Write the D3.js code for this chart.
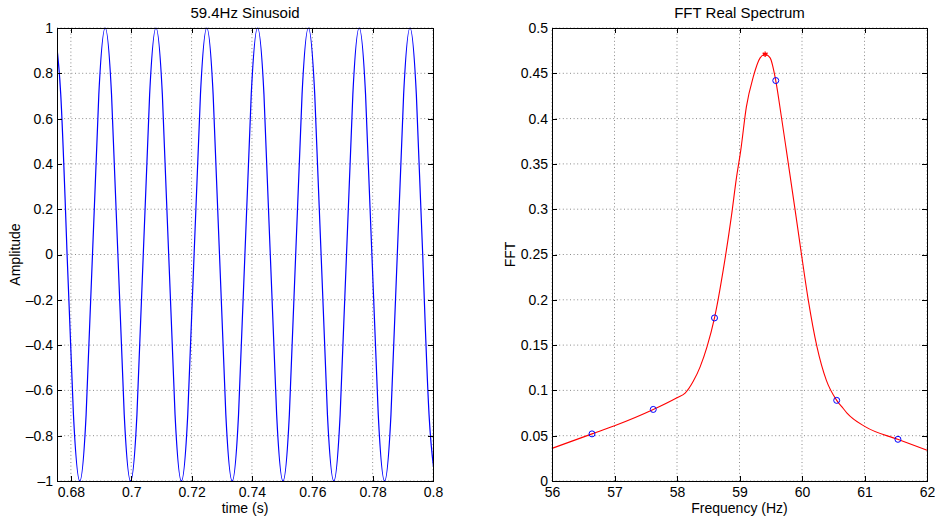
<!DOCTYPE html>
<html>
<head>
<meta charset="utf-8">
<script src="https://cdn.jsdelivr.net/npm/d3@7"></script>
<style>
  body { margin: 0; background: #fff; }
  svg { display: block; font-family: 'Liberation Sans', Arial, sans-serif; }
  .grid line { stroke: #8a8a8a; stroke-width: 1; stroke-dasharray: 1,2.6; }
  .axis path, .axis line { stroke: #000; shape-rendering: crispEdges; }
  .axis text { font-size: 14px; fill: #000; font-family: 'Liberation Sans', Arial, sans-serif; }
</style>
</head>
<body>
<svg id="chart" width="935" height="519"></svg>
<script>
// Left panel: sinusoid read at eighth-period points (peaks, troughs, crossings).
var sineTimes = [
  0.67453, 0.67664, 0.67874, 0.68085, 0.68295, 0.68505, 0.68716, 0.68926,
  0.69137, 0.69347, 0.69558, 0.69768, 0.69979, 0.70189, 0.70399, 0.70610,
  0.70820, 0.71031, 0.71241, 0.71452, 0.71662, 0.71873, 0.72083, 0.72294,
  0.72504, 0.72714, 0.72925, 0.73135, 0.73346, 0.73556, 0.73767, 0.73977,
  0.74187, 0.74398, 0.74608, 0.74819, 0.75029, 0.75240, 0.75450, 0.75661,
  0.75871, 0.76081, 0.76292, 0.76502, 0.76713, 0.76923, 0.77134, 0.77344,
  0.77554, 0.77765, 0.77975, 0.78186, 0.78396, 0.78607, 0.78817, 0.79027,
  0.79238, 0.79448, 0.79659, 0.79869, 0.80080
];
var sineValues = [
  1, 0.707, 0, -0.707, -1, -0.707, 0, 0.707,
  1, 0.707, 0, -0.707, -1, -0.707, 0, 0.707,
  1, 0.707, 0, -0.707, -1, -0.707, 0, 0.707,
  1, 0.707, 0, -0.707, -1, -0.707, 0, 0.707,
  1, 0.707, 0, -0.707, -1, -0.707, 0, 0.707,
  1, 0.707, 0, -0.707, -1, -0.707, 0, 0.707,
  1, 0.707, 0, -0.707, -1, -0.707, 0, 0.707,
  1, 0.707, 0, -0.707, -1
];
var timeTicks = [0.68, 0.70, 0.72, 0.74, 0.76, 0.78, 0.80];
var timeTickLabels = ['0.68', '0.7', '0.72', '0.74', '0.76', '0.78', '0.8'];
var ampTicks = [-1, -0.8, -0.6, -0.4, -0.2, 0, 0.2, 0.4, 0.6, 0.8, 1];
var ampTickLabels = ['\u20131', '\u20130.8', '\u20130.6', '\u20130.4', '\u20130.2',
  '0', '0.2', '0.4', '0.6', '0.8', '1'];

// Right panel: interpolated spectrum, FFT bins and the peak.
var specFreqs = [56.0, 56.64, 57.0, 57.62, 58.0, 58.13, 58.26, 58.37, 58.48,
  58.6, 58.74, 58.87, 58.95, 59.02, 59.11, 59.22, 59.33, 59.41, 59.49, 59.58,
  59.67, 59.75, 59.89, 59.99, 60.1, 60.24, 60.39, 60.555, 60.66, 60.72, 61.01,
  61.53, 62.0];
var specValues = [0.036, 0.052, 0.061, 0.079, 0.092, 0.097, 0.110, 0.126, 0.148,
  0.180, 0.233, 0.292, 0.334, 0.365, 0.413, 0.446, 0.467, 0.471, 0.467, 0.442,
  0.402, 0.365, 0.299, 0.251, 0.200, 0.148, 0.111, 0.089, 0.080, 0.075, 0.060,
  0.046, 0.034];
var binFreqs = [56.64, 57.62, 58.60, 59.58, 60.555, 61.535];
var binValues = [0.052, 0.079, 0.180, 0.442, 0.089, 0.046];
var peakFreq = [59.41];
var peakValue = [0.471];
var freqTicks = [56, 57, 58, 59, 60, 61, 62];
var freqTickLabels = ['56', '57', '58', '59', '60', '61', '62'];
var fftTicks = [0, 0.05, 0.1, 0.15, 0.2, 0.25, 0.3, 0.35, 0.4, 0.45, 0.5];
var fftTickLabels = ['0', '0.05', '0.1', '0.15', '0.2', '0.25', '0.3', '0.35',
  '0.4', '0.45', '0.5'];

var svg = d3.select('#chart');
svg.append('rect').attr('width', 935).attr('height', 519).attr('fill', '#fff');

/**
 * Draws grid, box axes, title and labels of one panel.
 * @param {!Object} p
 * @return {!d3} plot group
 */
function drawPanel(p) {
  var x = p.x, y = p.y;
  var x0 = x.range()[0], x1 = x.range()[1];
  var y0 = y.range()[0], y1 = y.range()[1];
  var g = svg.append('g');

  var grid = g.append('g').attr('class', 'grid');
  grid.selectAll('.gx').data(p.xTicks).enter().append('line')
    .attr('x1', function(d) { return x(d); })
    .attr('x2', function(d) { return x(d); })
    .attr('y1', y0).attr('y2', y1);
  grid.selectAll('.gy').data(p.yTicks).enter().append('line')
    .attr('y1', function(d) { return y(d); })
    .attr('y2', function(d) { return y(d); })
    .attr('x1', x0).attr('x2', x1);

  var plot = g.append('g');

  var xFmt = function(d, i) { return p.xLabels[i]; };
  var yFmt = function(d, i) { return p.yLabels[i]; };
  var axes = g.append('g');
  axes.append('g').attr('class', 'axis')
    .attr('transform', 'translate(0,' + y0 + ')')
    .call(d3.axisBottom(x).tickValues(p.xTicks).tickFormat(xFmt)
      .tickSizeInner(-5).tickSizeOuter(0).tickPadding(6));
  axes.append('g').attr('class', 'axis')
    .attr('transform', 'translate(0,' + y1 + ')')
    .call(d3.axisTop(x).tickValues(p.xTicks).tickFormat('')
      .tickSizeInner(-5).tickSizeOuter(0));
  axes.append('g').attr('class', 'axis')
    .attr('transform', 'translate(' + x0 + ',0)')
    .call(d3.axisLeft(y).tickValues(p.yTicks).tickFormat(yFmt)
      .tickSizeInner(-5).tickSizeOuter(0).tickPadding(4));
  axes.append('g').attr('class', 'axis')
    .attr('transform', 'translate(' + x1 + ',0)')
    .call(d3.axisRight(y).tickValues(p.yTicks).tickFormat('')
      .tickSizeInner(-5).tickSizeOuter(0));
  axes.selectAll('.domain').attr('stroke-width', 1.2);

  g.append('text')
    .attr('x', (x0 + x1) / 2).attr('y', 17.5)
    .attr('text-anchor', 'middle').attr('font-size', 15)
    .text(p.title);
  g.append('text')
    .attr('x', (x0 + x1) / 2).attr('y', 512.5)
    .attr('text-anchor', 'middle').attr('font-size', 14)
    .text(p.xTitle);
  g.append('text')
    .attr('transform', 'translate(' + p.yTitleX + ',' + (y0 + y1) / 2 +
      ') rotate(-90)')
    .attr('text-anchor', 'middle').attr('font-size', 14)
    .text(p.yTitle);
  return plot;
}

// ---- left: time signal
var xTime = d3.scaleLinear().domain([0.6754, 0.8]).range([57, 433]);
var yAmp = d3.scaleLinear().domain([-1, 1]).range([481, 28]);
var left = drawPanel({
  x: xTime, y: yAmp,
  xTicks: timeTicks, xLabels: timeTickLabels,
  yTicks: ampTicks, yLabels: ampTickLabels,
  title: '59.4Hz Sinusoid', xTitle: 'time (s)', yTitle: 'Amplitude',
  yTitleX: 20
});

svg.append('clipPath').attr('id', 'clipLeft').append('rect')
  .attr('x', 57).attr('y', 20).attr('width', 376).attr('height', 470);

var sineLine = d3.line()
  .x(function(d) { return xTime(sineTimes[d]); })
  .y(function(d) { return yAmp(sineValues[d]); })
  .curve(d3.curveNatural);
left.append('path')
  .datum(d3.range(sineTimes.length))
  .attr('clip-path', 'url(#clipLeft)')
  .attr('d', sineLine)
  .attr('fill', 'none').attr('stroke', '#0000ff').attr('stroke-width', 1.2);

// ---- right: spectrum
var xFreq = d3.scaleLinear().domain([56, 62]).range([552, 927]);
var yFft = d3.scaleLinear().domain([0, 0.5]).range([481, 28]);
var right = drawPanel({
  x: xFreq, y: yFft,
  xTicks: freqTicks, xLabels: freqTickLabels,
  yTicks: fftTicks, yLabels: fftTickLabels,
  title: 'FFT Real Spectrum', xTitle: 'Frequency (Hz)', yTitle: 'FFT',
  yTitleX: 515
});

var specLine = d3.line()
  .x(function(d) { return xFreq(specFreqs[d]); })
  .y(function(d) { return yFft(specValues[d]); })
  .curve(d3.curveMonotoneX);
right.append('path')
  .datum(d3.range(specFreqs.length))
  .attr('d', specLine)
  .attr('fill', 'none').attr('stroke', '#ff0000').attr('stroke-width', 1.1);

right.selectAll('.bin').data(binFreqs).enter().append('circle')
  .attr('cx', function(d) { return xFreq(d); })
  .attr('cy', function(d, i) { return yFft(binValues[i]); })
  .attr('r', 3)
  .attr('fill', 'none').attr('stroke', '#0000ff').attr('stroke-width', 1);

right.selectAll('.peak').data(peakFreq).enter().append('path')
  .attr('transform', function(d, i) {
    return 'translate(' + xFreq(d) + ',' + yFft(peakValue[i]) + ')';
  })
  .attr('d', d3.symbol().type(d3.symbolAsterisk).size(22))
  .attr('fill', 'none').attr('stroke', '#ff0000').attr('stroke-width', 1.3);
</script>
</body>
</html>
